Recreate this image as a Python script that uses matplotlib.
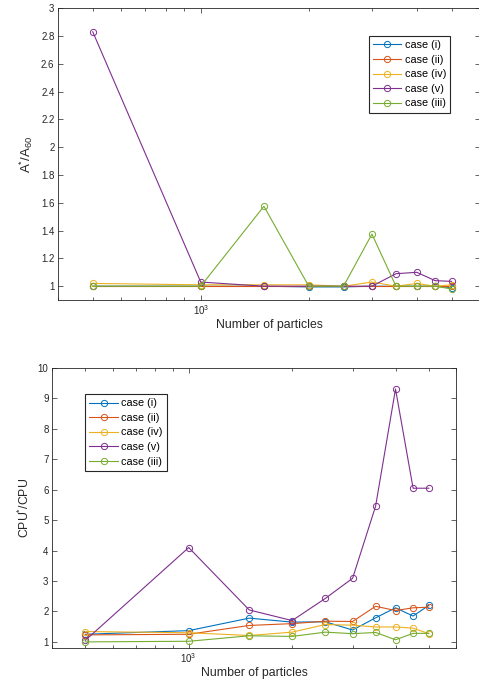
import numpy as np
import matplotlib.pyplot as plt
from matplotlib.ticker import FixedLocator, LogLocator, NullFormatter

plt.rcParams['font.family'] = ['Liberation Sans', 'DejaVu Sans']
plt.rcParams['mathtext.fontset'] = 'custom'
plt.rcParams['mathtext.rm'] = 'Liberation Sans'
plt.rcParams['mathtext.it'] = 'Liberation Sans'

# number of particles
n_particles = [500, 1000, 1500, 2000, 2500, 3000, 3500, 4000, 4500, 5000]
labels = ['case (i)', 'case (ii)', 'case (iv)', 'case (v)', 'case (iii)']
colors = ['#0072BD', '#D95319', '#EDB120', '#7E2F8E', '#77AC30']

# A*/A60
area_i = [1.0, 1.0, 1.0, 0.995, 0.995, 1.0, 1.0, 1.0, 1.0, 0.99]
area_ii = [1.0, 1.0, 1.0, 1.0, 1.0, 1.0, 1.0, 1.0, 1.0, 1.0]
area_iv = [1.02, 1.01, 1.01, 1.01, 1.0, 1.03, 1.0, 1.02, 1.0, 1.01]
area_v = [2.83, 1.03, 1.0, 1.0, 1.0, 1.0, 1.09, 1.10, 1.04, 1.035]
area_iii = [1.0, 1.0, 1.575, 1.0, 1.0, 1.375, 1.0, 1.0, 1.0, 0.98]

# CPU*/CPU
cpu_i = [1.25, 1.37, 1.78, 1.65, 1.66, 1.39, 1.79, 2.12, 1.85, 2.2]
cpu_ii = [1.23, 1.25, 1.54, 1.6, 1.68, 1.67, 2.17, 2.03, 2.12, 2.14]
cpu_iv = [1.34, 1.3, 1.21, 1.32, 1.57, 1.55, 1.49, 1.49, 1.45, 1.27]
cpu_v = [1.05, 4.1, 2.05, 1.7, 2.43, 3.09, 5.46, 9.31, 6.05, 6.05]
cpu_iii = [1.0, 1.02, 1.2, 1.18, 1.32, 1.27, 1.31, 1.07, 1.28, 1.28]

fig = plt.figure(figsize=(4.79, 6.79), dpi=100)
ax1 = fig.add_axes([0.121, 0.558, 0.881, 0.430])
ax2 = fig.add_axes([0.1086, 0.0457, 0.8434, 0.4123])

def style(ax, ylabel, ysize):
    ax.set_xscale('log')
    ax.set_xlim(400, 6000)
    ax.xaxis.set_major_locator(FixedLocator([1000]))
    ax.xaxis.set_minor_locator(LogLocator(base=10, subs=np.arange(2, 10)))
    ax.xaxis.set_minor_formatter(NullFormatter())
    ax.tick_params(which='both', direction='in', top=True, right=True,
                   colors='#262626', labelsize=7, width=0.5, pad=2.5)
    ax.tick_params(which='major', length=3.5)
    ax.tick_params(which='minor', length=2)
    for s in ax.spines.values():
        s.set_color('#262626')
        s.set_linewidth(0.6)
    ax.set_xlabel('Number of particles', fontsize=8.8, color='#262626', labelpad=1)
    ax.set_ylabel(ylabel, fontsize=ysize, color='#262626')

def draw(ax, series):
    for ys, lab, c in zip(series, labels, colors):
        ax.plot(n_particles, ys, '-o', color=c, label=lab, lw=0.8,
                markersize=4.5, markerfacecolor='none', markeredgewidth=0.7)

def legend(ax, anchor):
    leg = ax.legend(loc='upper left', bbox_to_anchor=anchor, fontsize=7.8,
                    handlelength=2.6, numpoints=1, fancybox=False, framealpha=1,
                    borderpad=0.4, labelspacing=0.42, handletextpad=0.3,
                    borderaxespad=0)
    leg.get_frame().set_edgecolor('#262626')
    leg.get_frame().set_linewidth(0.8)

draw(ax1, [area_i, area_ii, area_iv, area_v, area_iii])
style(ax1, r'$\mathregular{A^{*}/A_{60}}$', 9.5)
ax1.set_ylim(0.9, 3)
ax1.set_yticks(np.arange(1, 3.01, 0.2))
ax1.set_yticklabels(['1', '1.2', '1.4', '1.6', '1.8', '2', '2.2', '2.4', '2.6', '2.8', '3'])
legend(ax1, (0.737, 0.905))

draw(ax2, [cpu_i, cpu_ii, cpu_iv, cpu_v, cpu_iii])
style(ax2, r'$\mathregular{CPU^{*}/CPU}$', 8.8)
ax2.set_ylim(0.8, 10)
ax2.set_yticks(np.arange(1, 11))
legend(ax2, (0.082, 0.907))

fig.savefig('out.png', dpi=100)
